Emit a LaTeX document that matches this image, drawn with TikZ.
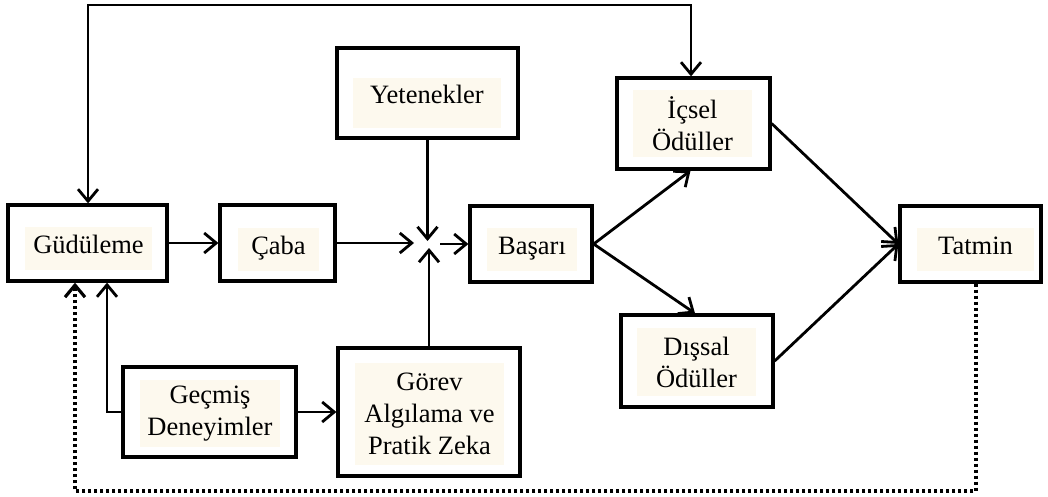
\documentclass[tikz,border=0pt]{standalone}
\usepackage{fontspec}
\setmainfont{Liberation Serif}
\usetikzlibrary{arrows.meta}
\definecolor{cream}{RGB}{253,249,238}
\begin{document}
\begin{tikzpicture}[x=1pt,y=-1pt,
  box/.style={draw, line width=3.3pt, inner sep=0pt, rectangle},
  tag/.style={fill=cream, inner sep=0pt, align=center,
    font=\fontsize{26.5}{32}\selectfont},
  oneline/.style={text height=18pt, text depth=8pt},
  tip/.style={Straight Barb[length=12pt,width=20pt,line width=2.8pt]},
  link/.style={line width=2.8pt, -{Straight Barb[length=12pt,width=20pt,line width=2.8pt]}},
  bothlink/.style={line width=2.8pt,
    {Straight Barb[length=12pt,width=20pt,line width=2.8pt]}-{Straight Barb[length=12pt,width=20pt,line width=2.8pt]}},
  dotlink/.style={line width=3.2pt, dash pattern=on 3pt off 3pt,
    -{Straight Barb[length=12pt,width=20pt,line width=3.2pt]}}]
\useasboundingbox (0,0) rectangle (1048,497);

% outer frames
\node[box, minimum width=159pt, minimum height=76pt] (gud)    at (87.5,243) {};
\node[box, minimum width=115pt, minimum height=76pt] (caba)   at (277.5,243) {};
\node[box, minimum width=122pt, minimum height=76pt] (bas)    at (531,244) {};
\node[box, minimum width=181pt, minimum height=90pt] (yet)    at (427.5,93) {};
\node[box, minimum width=153pt, minimum height=91pt] (icsel)  at (693.5,123.5) {};
\node[box, minimum width=152pt, minimum height=92pt] (dissal) at (697,361) {};
\node[box, minimum width=141pt, minimum height=76pt] (tatmin) at (970.5,244) {};
\node[box, minimum width=173pt, minimum height=90pt] (gecmis) at (209.5,412) {};
\node[box, minimum width=182pt, minimum height=128pt] (gorev) at (429,412) {};

% labels on their shaded backgrounds
\node[tag, oneline, minimum width=127pt, minimum height=43pt] (gudT) at (88.5,248.5) {Güdüleme};
\node[tag, oneline, minimum width=81pt, minimum height=43pt] (cabaT) at (278.5,249.5) {Çaba};
\node[tag, oneline, minimum width=90pt, minimum height=43pt] (basT) at (532,249.5) {Başarı};
\node[tag, text height=18pt, text depth=16pt, minimum width=148pt, minimum height=50pt] (yetT) at (427,103) {Yetenekler};
\node[tag, minimum width=119pt, minimum height=67pt] (icselT) at (692.5,123.5) {İçsel\\Ödüller};
\node[tag, minimum width=119pt, minimum height=68pt] (dissalT) at (696.5,362) {Dışsal\\Ödüller};
\node[tag, oneline, minimum width=117pt, minimum height=43pt] (tatminT) at (975.5,249.5) {Tatmin};
\node[tag, minimum width=140pt, minimum height=67pt] (gecmisT) at (210,413.5) {Geçmiş\\Deneyimler};
\node[tag, minimum width=149pt, minimum height=102pt] (gorevT) at (429.5,414) {Görev\\Algılama ve\\Pratik Zeka};

% meeting point of effort, abilities and task perception
\coordinate (jl) at (414,243);
\coordinate (jt) at (427.5,241);
\coordinate (jb) at (429,248);
\coordinate (jr) at (440,244);

% routing points of the feedback loops
\coordinate (top) at (0,5);
\coordinate (bl) at (75,491);

% connectors
\draw[link] (gud.east) -- (caba.east -| caba.west);
\draw[link] (caba.east) -- (jl);
\draw[link] (yet.south) -- (jt);
\draw[link] (gorev.north) -- (jb);
\draw[link] (jr) -- (bas.west |- jr);
\draw[link] (bas.east) -- ([xshift=-3pt]icsel.south);
\draw[link] (bas.east) -- ([xshift=-2pt]dissal.north);
\draw[link] (icsel.east) -- (tatmin.west);
\draw[link] (dissal.east) -- (tatmin.west);
\draw[link] (gecmis.east) -- (gorev.west);
\draw[link] (gecmis.west) -| ([xshift=19.5pt]gud.south);
\draw[bothlink] ([xshift=0.5pt]gud.north) -- ([xshift=0.5pt]gud.north |- top)
  -| ([xshift=-2.5pt]icsel.north);
\draw[dotlink] ([xshift=5.5pt]tatmin.south) |- (bl) -- ([xshift=-12.5pt]gud.south);
\end{tikzpicture}
\end{document}
